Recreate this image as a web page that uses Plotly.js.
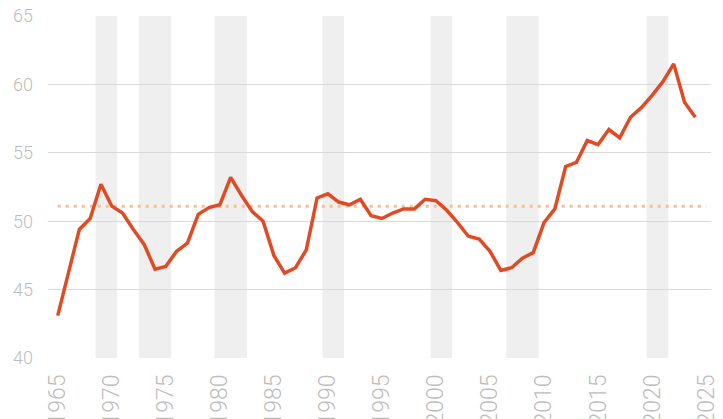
<!DOCTYPE html>
<html><head><meta charset="utf-8">
<script src="https://cdn.plot.ly/plotly-3.0.1.min.js"></script>
<style>html,body{margin:0;padding:0;background:#fff}#chart{width:723px;height:419px}</style>
</head><body><div id="chart"></div>
<script>
const years = [];
for (let y = 1965; y <= 2024; y++) years.push(y);
const values = [43.1,46.3,49.4,50.2,52.7,51.1,50.6,49.4,48.3,46.5,
46.7,47.8,48.4,50.5,51.0,51.2,53.2,51.9,50.7,50.0,
47.5,46.2,46.6,47.9,51.7,52.0,51.4,51.2,51.6,50.4,
50.2,50.6,50.9,50.9,51.6,51.5,50.8,49.9,48.9,48.7,
47.8,46.4,46.6,47.3,47.7,49.9,50.9,54.0,54.3,55.9,
55.6,56.7,56.1,57.6,58.3,59.2,60.2,61.5,58.7,57.6];
const averageValue = 51.1;
const averageSpan = [1965, 2025];
const bandStarts = [1969, 1973, 1980, 1990, 2000, 2007, 2020];
const bandEnds   = [1970, 1975, 1982, 1991, 2001, 2009, 2021];
const tickYears = [1965,1970,1975,1980,1985,1990,1995,2000,2005,2010,2015,2020,2025];
const yTicks = [40,45,50,55,60,65];

const shapes = bandStarts.map((s,i)=>({
  type:'rect', xref:'x', yref:'paper', x0:s-0.5, x1:bandEnds[i]+0.5, y0:0, y1:1,
  fillcolor:'#efefef', line:{width:0}, layer:'below'
}));

const traces = [
  {x: averageSpan, y: averageSpan.map(()=>averageValue), mode:'lines',
   line:{color:'#f9bf93', width:3, dash:'3px,5px'}, hoverinfo:'skip'},
  {x: years, y: values, mode:'lines',
   line:{color:'#e04b26', width:3.5}, hoverinfo:'skip'}
];

const layout = {
  width:723, height:419,
  margin:{l:48, r:12, t:16, b:61},
  paper_bgcolor:'#fff', plot_bgcolor:'rgba(0,0,0,0)',
  showlegend:false,
  shapes: shapes,
  xaxis:{range:[1964.1,2025.45], tickmode:'array', tickvals:tickYears,
    ticktext:tickYears.map(String), tickangle:-90, showgrid:false, zeroline:false,
    showline:false, ticks:'', ticklabelstandoff:11,
    tickfont:{family:'Roboto', size:23, color:'#bdbdbd', weight:300}},
  yaxis:{range:[40,65], tickmode:'array', tickvals:yTicks, showgrid:true,
    gridcolor:'#d9d9d9', gridwidth:1, zeroline:false, showline:false, ticks:'',
    ticklabelstandoff:14,
    tickfont:{family:'Roboto', size:18, color:'#bdbdbd', weight:300}}
};
Plotly.newPlot('chart', traces, layout, {staticPlot:true, displayModeBar:false});
</script></body></html>
